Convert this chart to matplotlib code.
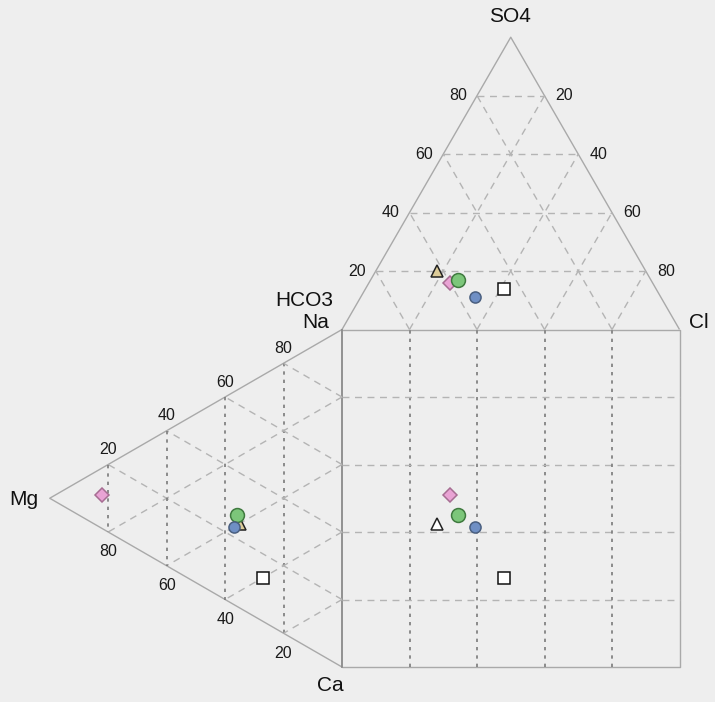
import matplotlib.pyplot as plt
import numpy as np

plt.rcParams["font.family"] = ["Liberation Sans", "DejaVu Sans"]

# sample names only used for the legend order of the markers
SAMPLES = ["S1", "S2", "S3", "S4", "S5"]

# anion composition, % meq
HCO3 = [62, 60, 57, 55, 45]
CL = [18, 24, 26, 34, 41]
SO4 = [20, 16, 17, 11, 14]

# cation composition, % meq
NA = [25, 10, 27, 23, 13]
CA = [40, 8, 37, 40, 60]
MG = [35, 82, 36, 37, 27]

MARKERS = ["^", "D", "o", "o", "s"]
FACES = ["#dccb98", "#e9a3d4", "#7cc67a", "#6f8fc4", "white"]
EDGES = ["#222222", "#a66d92", "#3f7a3f", "#4a5f80", "#111111"]
SIZES = [8, 7, 10, 8, 9]
SQUARE_FACES = ["white", "#e9a3d4", "#7cc67a", "#6f8fc4", "white"]

GRID = [0.2, 0.4, 0.6, 0.8]
H = np.sqrt(3) / 2


def anion_xy(c, s):
    return c + s / 2, 1 + H * s


def cation_xy(ca, m):
    return -H * m, 1 - (ca + m / 2)


fig = plt.figure(figsize=(7.15, 7.02), dpi=100, facecolor="#eeeeee")
ax = fig.add_axes([0, 0, 1, 1])
ax.set_facecolor("#eeeeee")
ax.set_xlim(-342 / 337.5, 373 / 337.5)
ax.set_ylim(-35 / 337.5, 667 / 337.5)
ax.axis("off")

outline = dict(color="#a9a9a9", lw=1.0, solid_capstyle="butt")
light = dict(color="#b4b4b4", lw=1.0, ls=(0, (5, 4)))
dark = dict(color="#7a7a7a", lw=1.2, ls=(0, (2, 3)))

# outlines
ax.plot([0, 0.5, 1], [1, 1 + H, 1], **outline)
ax.plot([0, 1, 1, 0], [1, 1, 0, 0], **outline)
ax.plot([0, -H, 0], [1, 0.5, 0], **outline)
ax.plot([0, 0], [0, 1], color="#8a8a8a", lw=1.3)

# anion triangle grid
for k in GRID:
    ax.plot([k / 2, 1 - k / 2], [1 + H * k, 1 + H * k], **light)
    ax.plot([k, k + (1 - k) / 2], [1, 1 + H * (1 - k)], **light)
    ax.plot([1 - k, (1 - k) / 2], [1, 1 + H * (1 - k)], **light)

# cation triangle grid
for k in GRID:
    ax.plot([-H * k, -H * k], [1 - k / 2, k / 2], **dark)
    ax.plot([0, -H * (1 - k)], [1 - k, (1 - k) / 2], **light)
    ax.plot([0, -H * (1 - k)], [k, (1 + k) / 2], **light)

# square grid
for k in GRID:
    ax.plot([k, k], [0, 1], **dark)
    ax.plot([0, 1], [k, k], **light)

# tick labels
tick = dict(fontsize=11.5, color="#1a1a1a", textcoords="offset pixels", va="center")
for k in GRID:
    v = int(round(k * 100))
    ax.annotate(str(v), (k / 2, 1 + H * k), xytext=(-10, 0), ha="right", **tick)
    ax.annotate(str(100 - v), (1 - k / 2, 1 + H * k), xytext=(11, 0), ha="left", **tick)
    ax.annotate(str(100 - v), (-H * k, 1 - k / 2), xytext=(0, 15), ha="center", **tick)
    ax.annotate(str(v), (-H * k, k / 2), xytext=(0, -20), ha="center", **tick)

# apex names
name = dict(fontsize=15, color="#111111", ha="center", va="center")
ax.text(0.498, 1.926, "SO4", **name)
ax.text(-0.113, 1.087, "HCO3", **name)
ax.text(-0.077, 1.022, "Na", **name)
ax.text(1.058, 1.022, "Cl", **name)
ax.text(-0.942, 0.495, "Mg", **name)
ax.text(-0.036, -0.056, "Ca", **name)

# samples
for i in range(len(SAMPLES)):
    c, s = CL[i] / 100, SO4[i] / 100
    ca, m = CA[i] / 100, MG[i] / 100
    ax_, ay_ = anion_xy(c, s)
    cx_, cy_ = cation_xy(ca, m)
    style = dict(marker=MARKERS[i], ms=SIZES[i], mec=EDGES[i], mew=1.1, ls="none", zorder=5)
    ax.plot(ax_, ay_, mfc=FACES[i], **style)
    ax.plot(cx_, cy_, mfc=FACES[i], **style)
    ax.plot(ax_, cy_, mfc=SQUARE_FACES[i], **style)

fig.savefig("out.png", dpi=100, facecolor=fig.get_facecolor())
